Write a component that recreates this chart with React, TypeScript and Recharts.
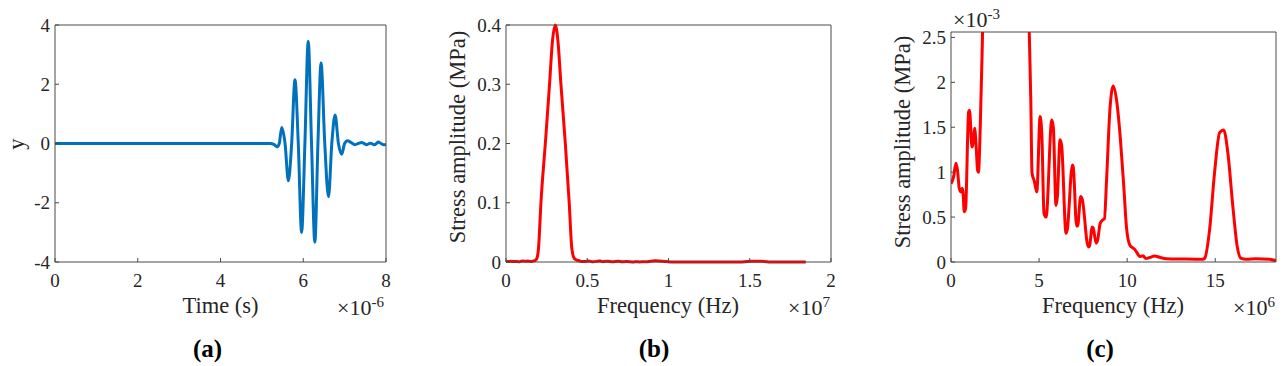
import React from 'react';
import { LineChart, Line, XAxis, YAxis } from 'recharts';

// ---------- Panel (a): time signal (time in microseconds) ----------
const timeUs = [
  0, 5.2, 5.3, 5.37, 5.42, 5.48, 5.56, 5.64, 5.72, 5.8, 5.88, 5.96, 6.04, 6.12, 6.2, 6.28,
  6.355, 6.43, 6.52, 6.61, 6.69, 6.77, 6.85, 6.93, 7.0, 7.07, 7.16, 7.25, 7.33, 7.41, 7.47,
  7.53, 7.58, 7.63, 7.68, 7.72, 7.77, 7.81, 7.88, 7.94, 8.0,
];
const signal = [
  0, 0, -0.04, -0.11, 0, 0.54, 0, -1.26, 0, 2.15, 0, -3.0, 0, 3.45, 0, -3.33,
  0, 2.72, 0, -1.8, 0, 0.96, 0, -0.36, 0, 0.09, 0.03, -0.04, 0, 0.03, 0,
  -0.04, -0.01, 0.01, -0.02, -0.04, 0, 0.05, 0, -0.04, -0.03,
];

// ---------- Panels (b) and (c): spectrum (frequency in MHz, amplitude in 1e-3 MPa) ----------
const freqMHz = [
  0, 0.15, 0.28, 0.37, 0.47, 0.57, 0.64, 0.69, 0.75, 0.83, 1.0, 1.05, 1.19, 1.25, 1.34, 1.43,
  1.51, 1.56, 1.66, 1.75, 1.8, 1.9, 2.0, 2.15, 2.42, 2.68, 2.85, 3.03, 3.2, 3.38, 3.65, 3.89,
  4.05, 4.2, 4.35, 4.45, 4.53, 4.6, 4.73, 4.87, 5.06, 5.16, 5.28, 5.4, 5.72, 5.81, 5.96, 6.04,
  6.19, 6.28, 6.53, 6.6, 6.89, 6.94, 7.13, 7.19, 7.36, 7.45, 7.79, 7.85, 8.02, 8.07, 8.24, 8.32,
  8.47, 8.62, 8.71, 8.83, 9.02, 9.21, 9.4, 9.62, 9.81, 9.96, 10.15, 10.43, 10.57, 10.72, 10.9,
  11.06, 11.28, 11.57, 11.85, 12.23, 13.17, 14.3, 14.4, 14.68, 14.96, 15.25, 15.48, 15.72, 16.0,
  16.25, 16.47, 16.75, 17.32, 18.08, 18.45,
];
const amplitude = [
  0.87, 0.95, 1.1, 1.02, 0.82, 0.78, 0.82, 0.76, 0.56, 0.6, 1.67, 1.69, 1.28, 1.32, 1.49, 1.28,
  1.02, 1.0, 1.5, 2.2, 2.7, 6, 23, 100, 200, 300, 370, 400, 372, 300, 200, 100,
  23, 6, 3.2, 2.5, 1.8, 0.99, 0.9, 0.78, 1.62, 1.4, 0.54, 0.5, 1.58, 1.5, 0.63, 0.73,
  1.36, 1.3, 0.32, 0.36, 1.08, 1.06, 0.4, 0.4, 0.73, 0.7, 0.17, 0.17, 0.39, 0.38, 0.21, 0.24,
  0.43, 0.47, 0.48, 0.91, 1.69, 1.96, 1.8, 1.36, 0.84, 0.39, 0.19, 0.14, 0.1, 0.06, 0.07,
  0.04, 0.05, 0.067, 0.052, 0.037, 0.033, 0.03, 0.04, 0.36, 0.99, 1.44, 1.47, 1.21, 0.62,
  0.17, 0.04, 0.03, 0.037, 0.03, 0.015,
];

// ---------- Tick values ----------
const aXTicks = [0, 2, 4, 6, 8];
const aYTicks = [-4, -2, 0, 2, 4];
const bXTicks = [0, 5, 10, 15, 20]; // MHz -> shown in units of 1e7 Hz
const bYTicks = [0, 100, 200, 300, 400]; // 1e-3 MPa -> shown in MPa
const cXTicks = [0, 5, 10, 15];
const cYTicks = [0, 0.5, 1, 1.5, 2, 2.5];

const signalData = timeUs.map((t, i) => ({ x: t, y: signal[i] }));
const spectrumData = freqMHz.map((f, i) => ({ x: f, y: amplitude[i] }));

const FONT = '"Liberation Serif", "Times New Roman", serif';
const AXIS = '#4a4a4a';
const TXT = '#262626';
const TICK_STYLE = { fontFamily: FONT, fontSize: 19, fill: TXT };
const PLOT_BOTTOM = 262;
const H = 366;

type PanelProps = {
  left: number;
  width: number;
  plotLeft: number;
  plotWidth: number;
  plotTop: number;
  data: { x: number; y: number }[];
  xDomain: [number, number];
  xTicks: number[];
  yDomain: [number, number];
  yTicks: number[];
  xFmt?: (v: number) => string;
  yFmt?: (v: number) => string;
  color: string;
  clip?: boolean;
};

function Panel(p: PanelProps) {
  const margin = {
    top: p.plotTop - 1,
    right: p.width - p.plotLeft - p.plotWidth - 1,
    bottom: H - PLOT_BOTTOM - 30,
    left: 0,
  };
  return (
    <div style={{ position: 'absolute', left: p.left, top: 0 }}>
      <LineChart width={p.width} height={H} data={p.data} margin={margin}>
        <XAxis
          xAxisId="b"
          dataKey="x"
          type="number"
          domain={p.xDomain}
          ticks={p.xTicks}
          tickFormatter={p.xFmt}
          orientation="bottom"
          height={30}
          tickSize={-4}
          tickMargin={15.5}
          stroke={AXIS}
          tick={TICK_STYLE}
          interval={0}
          allowDataOverflow
        />
        <XAxis
          xAxisId="t"
          dataKey="x"
          type="number"
          domain={p.xDomain}
          ticks={p.xTicks}
          orientation="top"
          height={1}
          tickSize={-4}
          tick={false}
          stroke={AXIS}
          interval={0}
          allowDataOverflow
        />
        <YAxis
          yAxisId="l"
          type="number"
          domain={p.yDomain}
          ticks={p.yTicks}
          tickFormatter={p.yFmt}
          width={p.plotLeft}
          tickSize={-4}
          tickMargin={9}
          stroke={AXIS}
          tick={TICK_STYLE}
          interval={0}
          allowDataOverflow={!!p.clip}
        />
        <YAxis
          yAxisId="r"
          orientation="right"
          type="number"
          domain={p.yDomain}
          ticks={p.yTicks}
          width={1}
          tickSize={-4}
          tick={false}
          stroke={AXIS}
          interval={0}
          allowDataOverflow={!!p.clip}
        />
        <Line
          xAxisId="b"
          yAxisId="l"
          dataKey="y"
          type="monotone"
          stroke={p.color}
          strokeWidth={3}
          dot={false}
          isAnimationActive={false}
        />
      </LineChart>
    </div>
  );
}

function Mult({ x, y, exp }: { x: number; y: number; exp: string }) {
  return (
    <text x={x} y={y} fontSize={22} fill={TXT} fontFamily={FONT}>
      ×10
      <tspan dy={-8} fontSize={15}>
        {exp}
      </tspan>
    </text>
  );
}

function RotLabel({ x, y, text }: { x: number; y: number; text: string }) {
  return (
    <text
      x={x}
      y={y}
      fontSize={22.5}
      fill={TXT}
      fontFamily={FONT}
      textAnchor="middle"
      transform={`rotate(-90 ${x} ${y})`}
    >
      {text}
    </text>
  );
}

export default function App() {
  return (
    <div style={{ position: 'absolute', left: 0, top: 0, width: 1287, height: H, background: '#fff' }}>
      <Panel
        left={0}
        width={420}
        plotLeft={55}
        plotWidth={331}
        plotTop={25}
        data={signalData}
        xDomain={[0, 8]}
        xTicks={aXTicks}
        yDomain={[-4, 4]}
        yTicks={aYTicks}
        color="#0072BD"
      />
      <Panel
        left={420}
        width={430}
        plotLeft={86}
        plotWidth={325}
        plotTop={25}
        data={spectrumData}
        xDomain={[0, 20]}
        xTicks={bXTicks}
        xFmt={(v) => String(v / 10)}
        yDomain={[0, 400]}
        yTicks={bYTicks}
        yFmt={(v) => String(v / 1000)}
        color="#FF0000"
      />
      <Panel
        left={850}
        width={437}
        plotLeft={101}
        plotWidth={325}
        plotTop={32}
        data={spectrumData}
        xDomain={[0, 18.45]}
        xTicks={cXTicks}
        yDomain={[0, 2.56]}
        yTicks={cYTicks}
        color="#FF0000"
        clip
      />
      <svg
        width={1287}
        height={H}
        style={{ position: 'absolute', left: 0, top: 0, pointerEvents: 'none' }}
      >
        {/* Panel (a) */}
        <RotLabel x={24} y={144} text="y" />
        <text x={220.5} y={313} fontSize={22.5} fill={TXT} fontFamily={FONT} textAnchor="middle">
          Time (s)
        </text>
        <Mult x={337} y={315} exp="-6" />
        <text x={207.5} y={357} fontSize={25} fontWeight="bold" fill="#000" fontFamily={FONT} textAnchor="middle">
          (a)
        </text>

        {/* Panel (b) */}
        <RotLabel x={465} y={137} text="Stress amplitude (MPa)" />
        <text x={668} y={313} fontSize={22.5} fill={TXT} fontFamily={FONT} textAnchor="middle">
          Frequency (Hz)
        </text>
        <Mult x={788} y={315} exp="7" />
        <text x={654} y={357} fontSize={25} fontWeight="bold" fill="#000" fontFamily={FONT} textAnchor="middle">
          (b)
        </text>

        {/* Panel (c) */}
        <RotLabel x={910} y={142} text="Stress amplitude (MPa)" />
        <Mult x={953} y={27} exp="-3" />
        <text x={1113} y={313} fontSize={22.5} fill={TXT} fontFamily={FONT} textAnchor="middle">
          Frequency (Hz)
        </text>
        <Mult x={1233} y={315} exp="6" />
        <text x={1100} y={357} fontSize={25} fontWeight="bold" fill="#000" fontFamily={FONT} textAnchor="middle">
          (c)
        </text>
      </svg>
    </div>
  );
}
